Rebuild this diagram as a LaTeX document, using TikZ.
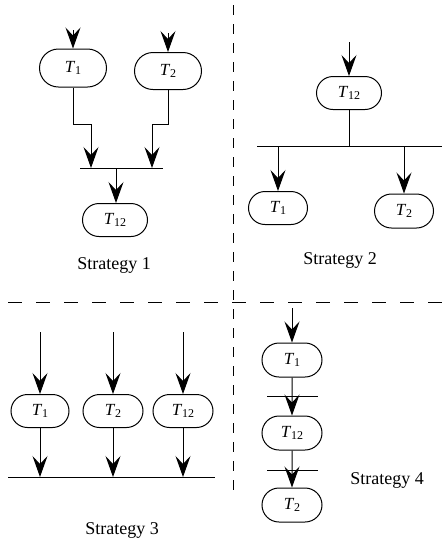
\documentclass[tikz,border=0pt]{standalone}
\usepackage{fontspec}
\setmainfont{Liberation Serif}
\usetikzlibrary{shapes.misc,arrows.meta}
\newcommand\Tlab[1]{\textit{T}\kern-0.3pt\raisebox{-0.35ex}{\fontsize{12}{12}\selectfont #1}}
\begin{document}
\begin{tikzpicture}[x=1pt,y=-1pt,
  tnode/.style={draw,line width=1pt,rounded rectangle,minimum width=60pt,minimum height=34pt,inner sep=0pt,font=\fontsize{17}{18}\selectfont},
  arr/.style={line width=1pt,-{Stealth[length=21pt,width=15pt,inset=8pt]}},
  ln/.style={line width=1pt},
  sep/.style={line width=0.9pt,dash pattern=on 14pt off 14pt},
  lbl/.style={font=\fontsize{18}{20}\selectfont}]
\useasboundingbox (0,0) rectangle (446,542);
% separators
\coordinate (v1) at (233,5);
\coordinate (v2) at (233,495);
\coordinate (h1) at (8,302);
\coordinate (h2) at (446,302);
\draw[sep,dash pattern=on 10pt off 9pt] (v1) -- (v2);
\draw[sep] (h1) -- (h2);
% Strategy 1
\node[tnode,minimum width=67pt,minimum height=38pt] (n11) at (73,68) {\Tlab{1}};
\node[tnode,minimum width=67pt,minimum height=37pt] (n12) at (168,71) {\Tlab{2}};
\node[tnode,minimum width=65pt,minimum height=33pt] (n13) at (115,220) {\Tlab{12}};
\coordinate (a11) at (73,30);
\coordinate (a12) at (168,33);
\draw[arr] (a11) -- (n11);
\draw[arr] (a12) -- (n12);
\coordinate (b1l) at (80,168);
\coordinate (b1r) at (163,168);
\coordinate (j11) at (91,168);
\coordinate (j12) at (152,168);
\coordinate (j13) at (116,168);
\draw[ln] (b1l) -- (b1r);
\draw[arr] (n11.south) -- ++(0,37) -| (j11);
\draw[arr] (n12.south) -- ++(0,34) -| (j12);
\draw[arr] (j13) -- (n13.north -| j13);
\node[lbl] (s1) at (114,265) {Strategy 1};
% Strategy 2
\node[tnode,minimum width=65pt,minimum height=33pt] (n21) at (349,93) {\Tlab{12}};
\node[tnode,minimum width=59pt,minimum height=33pt] (n22) at (278,208) {\Tlab{1}};
\node[tnode,minimum width=59pt,minimum height=34pt] (n23) at (404,211) {\Tlab{2}};
\coordinate (a21) at (349,42);
\draw[arr] (a21) -- (n21);
\coordinate (b2l) at (257,146);
\coordinate (b2r) at (442,146);
\coordinate (j21) at (349,146);
\coordinate (j22) at (278,146);
\coordinate (j23) at (404,146);
\draw[ln] (b2l) -- (b2r);
\draw[ln] (n21.south) -- (j21);
\draw[arr] (j22) -- (n22.north);
\draw[arr] (j23) -- (n23.north);
\node[lbl] (s2) at (340,260) {Strategy 2};
% Strategy 3
\node[tnode,minimum width=58pt,minimum height=33pt] (n31) at (40,411) {\Tlab{1}};
\node[tnode,minimum width=60pt,minimum height=33pt] (n32) at (113,411) {\Tlab{2}};
\node[tnode,minimum width=60pt,minimum height=33pt] (n33) at (183,411) {\Tlab{12}};
\coordinate (a31) at (40,332);
\coordinate (a32) at (113,332);
\coordinate (a33) at (183,332);
\draw[arr] (a31) -- (n31);
\draw[arr] (a32) -- (n32);
\draw[arr] (a33) -- (n33);
\coordinate (b3l) at (8,477);
\coordinate (b3r) at (215,477);
\draw[ln] (b3l) -- (b3r);
\draw[arr] (n31.south) -- (n31.south |- b3l);
\draw[arr] (n32.south) -- (n32.south |- b3l);
\draw[arr] (n33.south) -- (n33.south |- b3l);
\node[lbl] (s3) at (122,530) {Strategy 3};
% Strategy 4
\node[tnode] (n41) at (292,360) {\Tlab{1}};
\node[tnode] (n42) at (292,433) {\Tlab{12}};
\node[tnode] (n43) at (292,505) {\Tlab{2}};
\coordinate (a41) at (292,308);
\draw[arr] (a41) -- (n41);
\coordinate (b4l) at (267,396);
\coordinate (b4r) at (318,396);
\coordinate (b5l) at (267,470);
\coordinate (b5r) at (318,470);
\draw[ln] (b4l) -- (b4r);
\draw[ln] (b5l) -- (b5r);
\draw[arr] (n41) -- (n42);
\draw[arr] (n42) -- (n43);
\node[lbl] (s4) at (387,480) {Strategy 4};
\end{tikzpicture}
\end{document}
